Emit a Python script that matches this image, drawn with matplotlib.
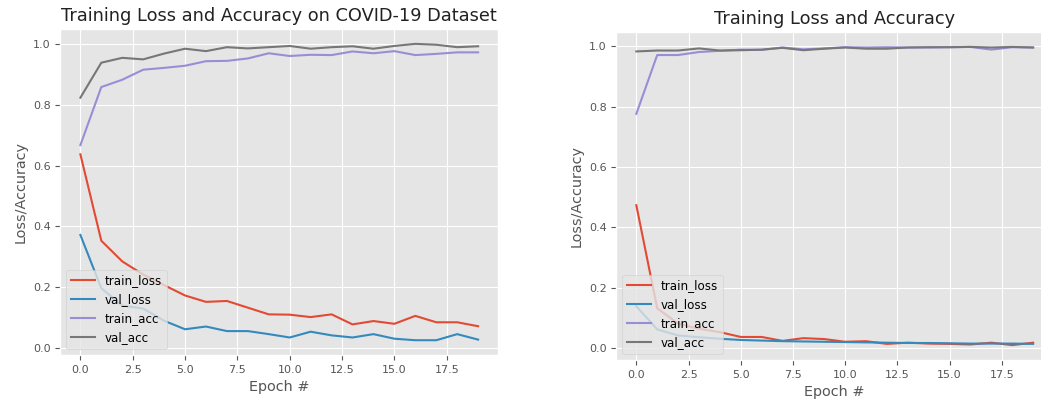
import matplotlib
matplotlib.use("Agg")
import matplotlib.pyplot as plt
import numpy as np

epochs = list(range(20))

# Left chart: COVID-19 dataset
left_train_loss = [0.637, 0.353, 0.285, 0.242, 0.207, 0.173, 0.152, 0.155, 0.133, 0.111,
                   0.110, 0.102, 0.111, 0.078, 0.089, 0.080, 0.106, 0.085, 0.085, 0.072]
left_val_loss = [0.372, 0.197, 0.140, 0.130, 0.090, 0.062, 0.071, 0.056, 0.056, 0.046,
                 0.035, 0.054, 0.042, 0.035, 0.046, 0.031, 0.026, 0.026, 0.046, 0.028]
left_train_acc = [0.667, 0.858, 0.882, 0.915, 0.921, 0.928, 0.943, 0.944, 0.952, 0.969,
                  0.960, 0.964, 0.963, 0.975, 0.969, 0.976, 0.963, 0.967, 0.972, 0.972]
left_val_acc = [0.823, 0.938, 0.954, 0.949, 0.968, 0.984, 0.976, 0.989, 0.985, 0.989,
                0.993, 0.984, 0.989, 0.992, 0.984, 0.993, 1.000, 0.997, 0.989, 0.992]

# Right chart
right_train_loss = [0.473, 0.131, 0.080, 0.063, 0.052, 0.036, 0.036, 0.023, 0.032, 0.029,
                    0.020, 0.022, 0.013, 0.017, 0.014, 0.013, 0.011, 0.017, 0.009, 0.017]
right_val_loss = [0.138, 0.061, 0.041, 0.035, 0.030, 0.026, 0.024, 0.022, 0.021, 0.020,
                  0.019, 0.018, 0.017, 0.016, 0.016, 0.015, 0.014, 0.014, 0.014, 0.013]
right_train_acc = [0.776, 0.971, 0.971, 0.981, 0.985, 0.989, 0.988, 0.996, 0.990, 0.993,
                   0.997, 0.996, 0.997, 0.996, 0.996, 0.997, 0.998, 0.989, 0.997, 0.996]
right_val_acc = [0.983, 0.986, 0.986, 0.993, 0.986, 0.987, 0.989, 0.995, 0.987, 0.992,
                 0.996, 0.992, 0.992, 0.996, 0.997, 0.997, 0.998, 0.996, 0.998, 0.996]

titles = ["Training Loss and Accuracy on COVID-19 Dataset", "Training Loss and Accuracy"]
series_labels = ["train_loss", "val_loss", "train_acc", "val_acc"]

plt.style.use("ggplot")
plt.rcParams["font.size"] = 8
plt.rcParams["font.family"] = ["DejaVu Sans"]

fig = plt.figure(figsize=(10.41, 4.03), dpi=100)
ax1 = fig.add_axes([0.0581, 0.119, 0.4203, 0.809])
ax2 = fig.add_axes([0.5922, 0.1067, 0.4193, 0.8139])

datasets = [
    (ax1, [left_train_loss, left_val_loss, left_train_acc, left_val_acc], titles[0]),
    (ax2, [right_train_loss, right_val_loss, right_train_acc, right_val_acc], titles[1]),
]

for ax, series, title in datasets:
    for vals, lab in zip(series, series_labels):
        ax.plot(epochs, vals, label=lab, linewidth=1.5)
    ax.set_title(title, fontsize=12.8, color="#222222")
    ax.set_xlabel("Epoch #", fontsize=10.4)
    ax.set_ylabel("Loss/Accuracy", fontsize=10.4)
    ax.tick_params(labelsize=8)
    ax.legend(loc="lower left", fontsize=8.6)

fig.savefig("out.png", dpi=100)
